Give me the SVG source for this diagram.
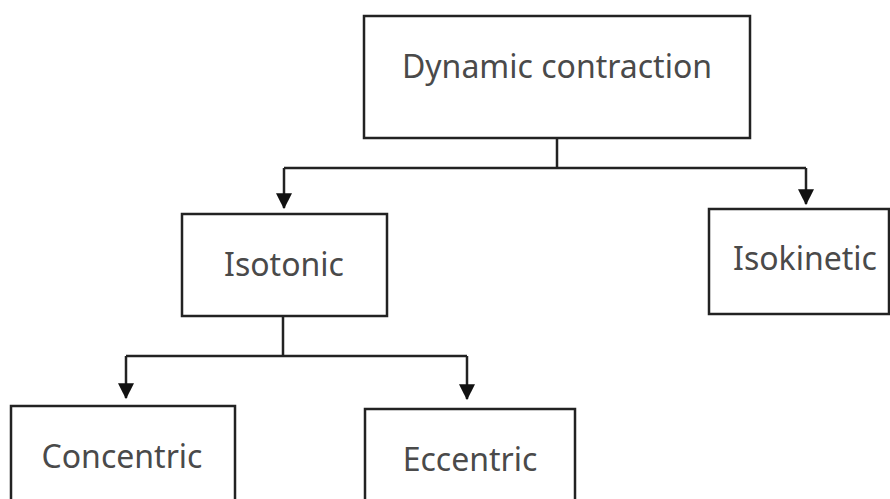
<svg xmlns="http://www.w3.org/2000/svg" width="890" height="499" viewBox="0 0 890 499">
<style>
.box{fill:#fff;stroke:#222;stroke-width:2.5}
.lbl{font-family:"Noto Sans","Open Sans",sans-serif;font-size:32px;fill:#4a4a4a;text-anchor:middle}
.con{fill:none;stroke:#222;stroke-width:2.5}
</style>
<defs>
<marker id="arr" markerUnits="userSpaceOnUse" markerWidth="16" markerHeight="16" refX="13" refY="7" orient="auto" viewBox="0 0 14 14">
<path d="M0,0 L14,7 L0,14 Z" fill="#111"/>
</marker>
</defs>
<rect width="890" height="499" fill="#fff"/>
<g id="connectors">
<path class="con" d="M557,138 V168 M284,168 H806"/>
<path class="con" d="M284,168 V208" marker-end="url(#arr)"/>
<path class="con" d="M806,168 V204" marker-end="url(#arr)"/>
<path class="con" d="M283,316 V356 M126,356 H467"/>
<path class="con" d="M126,356 V398" marker-end="url(#arr)"/>
<path class="con" d="M467,356 V399" marker-end="url(#arr)"/>
</g>
<g id="dynamic"><rect class="box" x="364" y="16" width="386" height="122"/><text class="lbl" x="557" y="78">Dynamic contraction</text></g>
<g id="isotonic"><rect class="box" x="182" y="214" width="205" height="102"/><text class="lbl" x="284" y="276">Isotonic</text></g>
<g id="isokinetic"><rect class="box" x="709" y="209" width="180" height="105"/><text class="lbl" x="805" y="270">Isokinetic</text></g>
<g id="concentric"><rect class="box" x="11" y="406" width="224" height="100"/><text class="lbl" x="122" y="468">Concentric</text></g>
<g id="eccentric"><rect class="box" x="365" y="409" width="210" height="100"/><text class="lbl" x="470" y="471">Eccentric</text></g>
</svg>
